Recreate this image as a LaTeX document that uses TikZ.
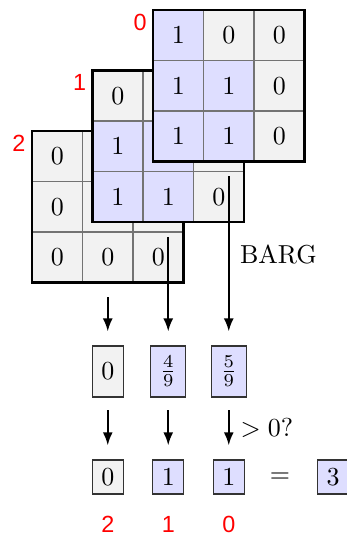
\documentclass[tikz,border=0pt]{standalone}
\usepackage{fontspec}
\newfontfamily\lblfont{Liberation Sans}
\usetikzlibrary{arrows.meta}
\def\pxu{0.385pt}
\tikzset{
  c1/.style={fill=blue!13},
  c0/.style={fill=black!5},
  cell/.style={draw=black!55, line width=0.55pt, minimum size=19.44pt, inner sep=0pt, anchor=center},
  gridborder/.style={draw=black, line width=0.85pt, minimum size=58.33pt, inner sep=0pt},
  valbox/.style={draw=black!80, line width=0.45pt, inner sep=0pt, minimum height=19.6pt},
  resbox/.style={draw=black!80, line width=0.45pt, inner sep=0pt, minimum height=13.1pt, minimum width=11.94pt},
  arr/.style={-{Latex[length=5pt,width=3.8pt]}, line width=0.75pt},
  lbl/.style={text=red, font=\lblfont\small, inner sep=0pt},
}
\begin{document}
\begin{tikzpicture}[x=0.385pt, y=-0.385pt]
\useasboundingbox (0,0) rectangle (347,534);
% grids, back to front
\foreach \k/\vals in {2/{0,0,0,0,0,0,0,0,0}, 1/{0,0,0,1,1,0,1,1,0}, 0/{1,0,0,1,1,0,1,1,0}}{
  \foreach \v [count=\i from 0] in \vals {
    \pgfmathtruncatemacro{\row}{\i/3}
    \pgfmathtruncatemacro{\col}{mod(\i,3)}
    \pgfmathsetmacro{\cx}{153-60.5*\k+50.5*\col+25.25}
    \pgfmathsetmacro{\cy}{10+60.5*\k+50.5*\row+25.25}
    \node[cell, c\v] (g\k-\i) at (\cx,\cy) {$\v$};
  }
  \node[gridborder] (G\k) at (153-60.5*\k+75.75, 10+60.5*\k+75.75) {};
  \node[lbl] (L\k) at (140-60.5*\k, 22+60.5*\k) {\k};
}
% fraction boxes
\node[valbox, c0, minimum width=11.94pt] (f2) at (107.75,371.5) {$0$};
\node[valbox, c1, minimum width=13.5pt] (f1) at (168.25,371.5) {$\frac{4}{9}$};
\node[valbox, c1, minimum width=13.5pt] (f0) at (228.75,371.5) {$\frac{5}{9}$};
% result boxes
\node[resbox, c0] (r2) at (107.75,477) {$0$};
\node[resbox, c1] (r1) at (168.25,477) {$1$};
\node[resbox, c1] (r0) at (228.75,477) {$1$};
\node (eq) at (280,478) {$=$};
\node[resbox, c1] (rs) at (333,477) {$3$};
% arrows grid -> fraction -> result
\foreach \k in {0,1,2}{
  \draw[arr, shorten <=5.3pt, shorten >=5.4pt] (G\k.south) -- (G\k.south |- f\k.north);
  \draw[arr, shorten <=4.9pt, shorten >=5.4pt] (f\k.south) -- (f\k.south |- r\k.north);
}
\node[anchor=west, inner sep=0pt] (barg) at (239.5,254) {BARG};
\node[anchor=west, inner sep=0pt] (gt) at (240,428) {$>0?$};
% bottom labels
\node[lbl] (b2) at (108,524.5) {2};
\node[lbl] (b1) at (168.25,524.5) {1};
\node[lbl] (b0) at (228.75,524.5) {0};
\end{tikzpicture}
\end{document}
